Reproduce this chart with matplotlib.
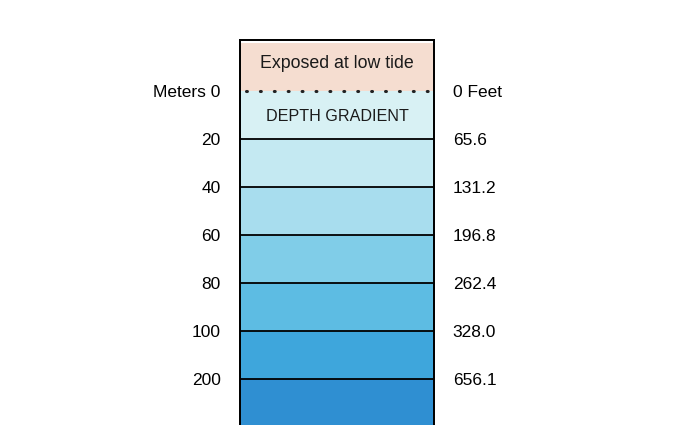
import matplotlib.pyplot as plt

# depth bands, top to bottom
band_labels = ["Exposed at low tide", "DEPTH GRADIENT", "", "", "", "", "", ""]
band_colors = ["#f5ddd0", "#d8f1f4", "#c4e9f2", "#a8ddee", "#80cde8",
               "#5dbce3", "#3ea6dc", "#2f8fd2"]
meters = ["Meters 0", "20", "40", "60", "80", "100", "200"]
feet = ["0 Feet", "65.6", "131.2", "196.8", "262.4", "328.0", "656.1"]

plt.rcParams["font.family"] = ["Liberation Sans", "DejaVu Sans"]

fig = plt.figure(figsize=(6.77, 4.25), dpi=100)
ax = fig.add_axes([240 / 677, 0.0, 194 / 677, 1 - 40 / 425])

# band k spans y=k-1..k (exposed band above 0)
for i, col in enumerate(band_colors):
    ax.axhspan(i - 1, i, color=col, lw=0)

ax.text(0.5, -1 + 0.42, band_labels[0], ha="center", va="center",
        fontsize=12.8, color="#1a1a1a", transform=ax.get_yaxis_transform())
ax.text(0.5, 0.54, band_labels[1], ha="center", va="center",
        fontsize=11.6, color="#1a1a1a", transform=ax.get_yaxis_transform())

# separators: dotted at sea level, solid below
ax.axhline(0, xmin=0.03, xmax=0.97, color="#222222", lw=2.2,
           linestyle=(0, (0.3, 4.25)), dash_capstyle="round")
for k in range(1, len(meters)):
    ax.axhline(k, color="black", lw=1.3)

ax.set_xlim(0, 1)
ax.set_ylim(6.96, -1.06)
ax.set_xticks([])
ax.set_yticks(range(len(meters)))
ax.set_yticklabels(meters, fontsize=12.5)
ax.tick_params(axis="y", length=0, pad=14)

ax2 = ax.twinx()
ax2.set_ylim(ax.get_ylim())
ax2.set_yticks(range(len(feet)))
ax2.set_yticklabels(feet, fontsize=12.5)
ax2.tick_params(axis="y", length=0, pad=13.5)

for a in (ax, ax2):
    a.spines["bottom"].set_visible(False)
    for s in ("left", "right", "top"):
        a.spines[s].set_linewidth(1.3)
        a.spines[s].set_color("black")

fig.savefig("out.png", dpi=100)
